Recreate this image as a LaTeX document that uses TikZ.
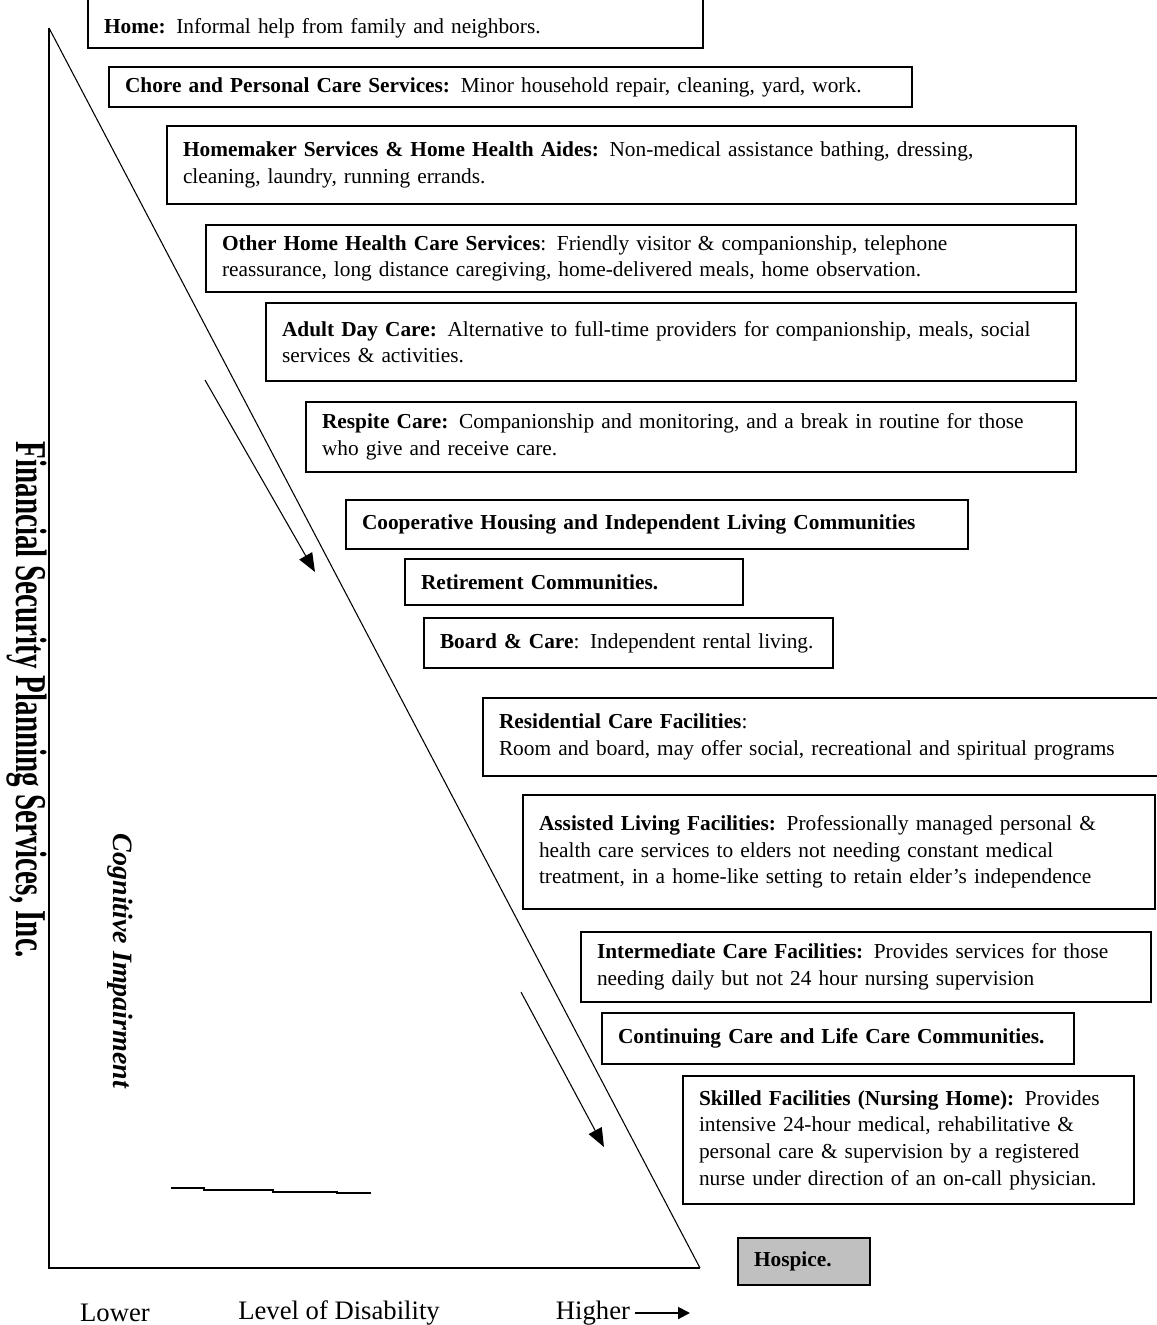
\documentclass[tikz,border=0pt]{standalone}
\usepackage{fontspec}
\setmainfont{Liberation Serif}
\usetikzlibrary{arrows.meta}
\definecolor{hospicegray}{RGB}{192,192,192}

\begin{document}
\begin{tikzpicture}[x=0.75pt,y=-0.75pt]
	\tikzstyle{BOX} = [draw=black, line width=1.5pt, anchor=north west, inner xsep=12pt, inner ysep=0pt, align=left, font=\fontsize{16}{20}\selectfont]
	\tikzstyle{AXIS} = [line width=1.5pt]
	\tikzstyle{TREND} = [line width=0.8pt, -{Triangle[length=14pt, width=11pt]}]
	\tikzstyle{SCALE} = [font=\fontsize{20}{20}\selectfont]

	\useasboundingbox (0,0) rectangle (1157,1325);

	% axes and the falling line
	\coordinate (TOP) at (49,28);
	\coordinate (ORIGIN) at (49,1268);
	\coordinate (FOOT) at (700,1268);
	\draw[AXIS] (TOP) -- (ORIGIN) -- (FOOT);
	\draw[line width=0.8pt] (TOP) -- (FOOT);

	% services, from home to hospice
	\node[BOX, text width=437.25pt, text height=30pt, text depth=11.25pt] (HOME) at (87,-8) {\textbf{Home:} Informal help from family and neighbors.};
	\node[BOX, text width=578.25pt, minimum height=30pt] (CHORE) at (108,66) {\textbf{Chore and Personal Care Services:} Minor household repair, cleaning, yard, work.};
	\node[BOX, text width=657.75pt, minimum height=58.5pt] (HMAKER) at (166,125) {\textbf{Homemaker Services \& Home Health Aides:} Non-medical assistance bathing, dressing,\\cleaning, laundry, running errands.};
	\node[BOX, text width=628.5pt, minimum height=50.25pt] (OTHER) at (205,224) {\textbf{Other Home Health Care Services}: Friendly visitor \& companionship, telephone\\reassurance, long distance caregiving, home-delivered meals, home observation.};
	\node[BOX, text width=583.5pt, minimum height=58.5pt] (ADULT) at (265,302) {\textbf{Adult Day Care:} Alternative to full-time providers for companionship, meals, social\\services \& activities.};
	\node[BOX, text width=553.5pt, minimum height=52.5pt] (RESPITE) at (305,401) {\textbf{Respite Care:} Companionship and monitoring, and a break in routine for those\\who give and receive care.};
	\node[BOX, text width=442.5pt, minimum height=36.75pt] (COOP) at (345,499) {\textbf{Cooperative Housing and Independent Living Communities}};
	\node[BOX, text width=229.5pt, minimum height=34.5pt] (RETIRE) at (404,558) {\textbf{Retirement Communities.}};
	\node[BOX, text width=282.75pt, minimum height=37.5pt] (BOARD) at (423,617) {\textbf{Board \& Care}: Independent rental living.};
	\node[BOX, text width=486pt, minimum height=58.5pt] (RESID) at (482,697) {\textbf{Residential Care Facilities}:\\Room and board, may offer social, recreational and spiritual programs};
	\node[BOX, text width=450pt, minimum height=85.5pt] (ASSIST) at (522,794) {\textbf{Assisted Living Facilities:} Professionally managed personal \&\\health care services to elders not needing constant medical\\treatment, in a home-like setting to retain elder’s independence};
	\node[BOX, text width=403.5pt, minimum height=52.5pt] (INTER) at (580,931) {\textbf{Intermediate Care Facilities:} Provides services for those\\needing daily but not 24 hour nursing supervision};
	\node[BOX, text width=330pt, minimum height=38.25pt] (CONT) at (601,1012) {\textbf{Continuing Care and Life Care Communities.}};
	\node[BOX, text width=314.25pt, minimum height=96pt] (SKILL) at (682,1075) {\textbf{Skilled Facilities (Nursing Home):} Provides\\intensive 24-hour medical, rehabilitative \&\\personal care \& supervision by a registered\\nurse under direction of an on-call physician.};
	\node[BOX, fill=hospicegray, text width=75pt, minimum height=35.25pt] (HOSPICE) at (737,1237) {\textbf{Hospice.}};

	% trend arrows
	\coordinate (UPSTART) at (205,380);
	\coordinate (UPEND) at (315,572);
	\coordinate (LOWSTART) at (521,992);
	\coordinate (LOWEND) at (604,1147);
	\draw[TREND] (UPSTART) -- (UPEND);
	\draw[TREND] (LOWSTART) -- (LOWEND);

	% stray rule near the base
	\draw[line width=1.5pt] (171,1188) -- (204,1188) -- (204,1190) -- (273,1190) -- (273,1192) -- (337,1192) -- (337,1193) -- (371,1193);

	% side titles
	\node[rotate=-90] (FIRM) at (27,700) {\scalebox{0.66}[1]{\fontsize{33}{33}\selectfont\bfseries Financial Security Planning Services, Inc.}};
	\node[rotate=-90] (COGNI) at (120,961) {\fontsize{21}{21}\selectfont\bfseries\itshape Cognitive Impairment};

	% disability scale
	\node[SCALE] (LOWER) at (115,1313) {Lower};
	\node[SCALE] (LEVEL) at (339,1313) {Level of Disability};
	\node[SCALE] (HIGHER) at (593,1313) {Higher};
	\coordinate (HIGHEND) at (690,1313);
	\draw[line width=1.5pt, -{Triangle[length=9pt, width=9pt]}] (HIGHER.east) -- (HIGHEND);
	%\draw[AXIS] (ORIGIN) -- (TOP);
\end{tikzpicture}
\end{document}
